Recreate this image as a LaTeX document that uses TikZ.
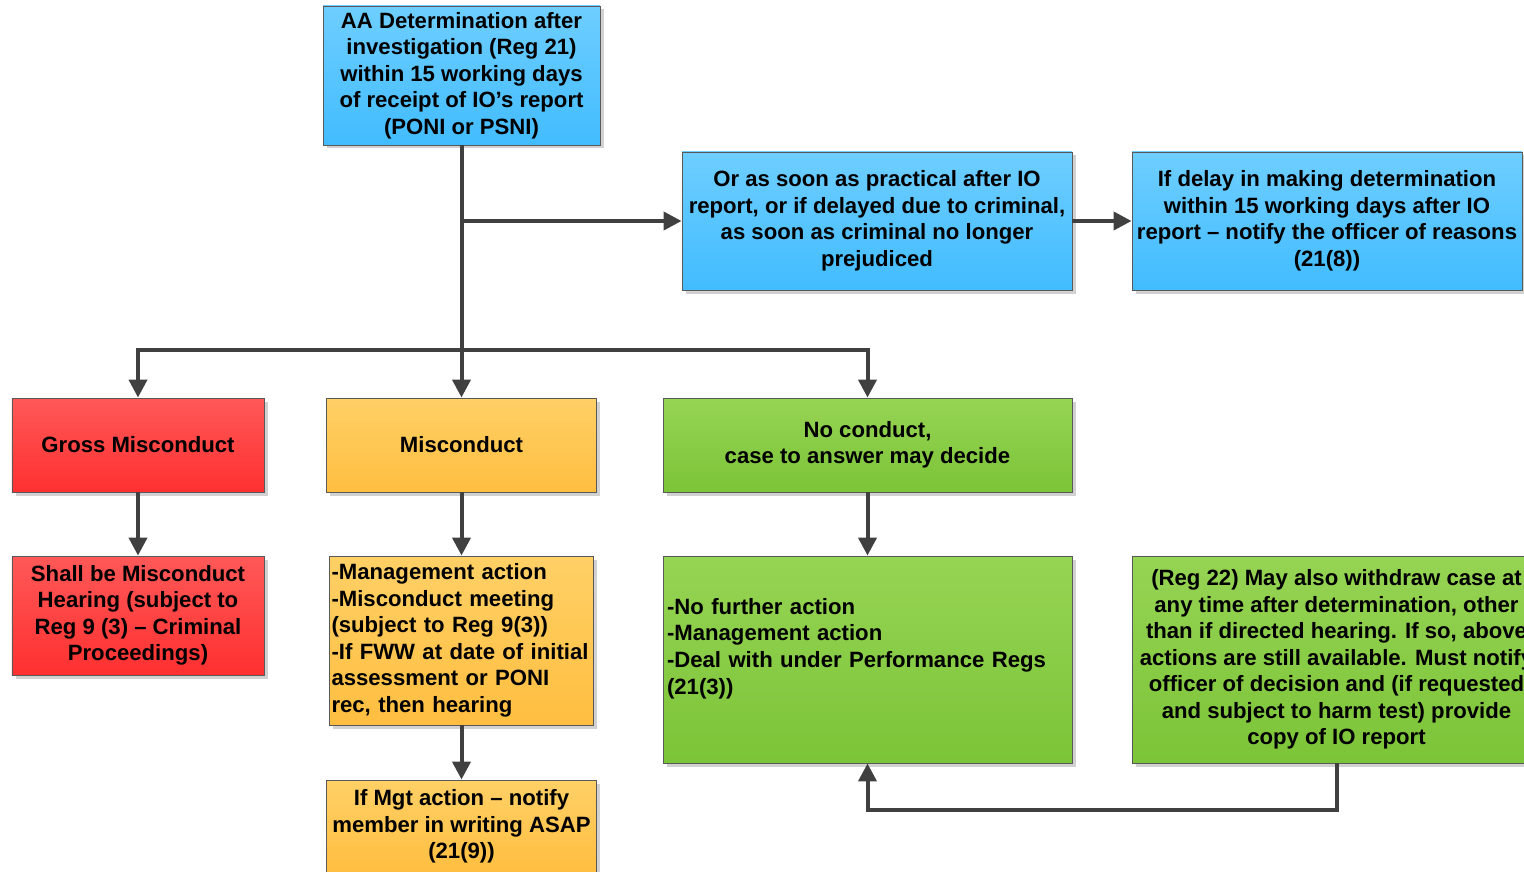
\documentclass[tikz,border=0pt]{standalone}
\usepackage{fontspec}
\setmainfont{Liberation Sans}
\usetikzlibrary{arrows.meta,shadows}

\tikzstyle{box} = [draw=black!65, line width=0.5pt, inner sep=2pt,
  font=\fontsize{12.6}{15.1}\selectfont\bfseries, align=center,
  drop shadow={shadow xshift=0.07cm, shadow yshift=-0.07cm, fill=black!18, opacity=1}]
\tikzstyle{blue}   = [box, top color={rgb,255:red,110;green,206;blue,255}, bottom color={rgb,255:red,66;green,188;blue,255}]
\tikzstyle{red}    = [box, top color={rgb,255:red,255;green,88;blue,88}, bottom color={rgb,255:red,255;green,48;blue,48}]
\tikzstyle{orange} = [box, top color={rgb,255:red,255;green,208;blue,102}, bottom color={rgb,255:red,255;green,190;blue,64}]
\tikzstyle{green}  = [box, top color={rgb,255:red,150;green,212;blue,84}, bottom color={rgb,255:red,124;green,196;blue,56}]
\tikzstyle{line}  = [draw, line width=0.08cm, color=black!75]
\tikzstyle{arrow} = [line, -{Stealth[inset=0pt, length=0.36cm, width=0.36cm]}]

\begin{document}
\begin{tikzpicture}
\useasboundingbox (0,0) rectangle (30.48,-17.44);
\clip (0,0) rectangle (30.48,-17.44);

% top row
\node[blue, minimum width=5.54cm, minimum height=2.78cm] (aa) at (9.23,-1.51)
  {AA Determination after\\investigation (Reg 21)\\within 15 working days\\of receipt of IO’s report\\(PONI or PSNI)};
\node[blue, minimum width=7.80cm, minimum height=2.76cm] (soon) at (17.54,-4.42)
  {Or as soon as practical after IO\\report, or if delayed due to criminal,\\as soon as criminal no longer\\prejudiced};
\node[blue, minimum width=7.80cm, minimum height=2.76cm] (delay) at (26.54,-4.42)
  {If delay in making determination\\within 15 working days after IO\\report – notify the officer of reasons\\(21(8))};

% outcomes
\node[red, minimum width=5.04cm, minimum height=1.88cm] (gross) at (2.76,-8.90) {Gross Misconduct};
\node[orange, minimum width=5.40cm, minimum height=1.88cm] (misc) at (9.23,-8.90) {Misconduct};
\node[green, minimum width=8.18cm, minimum height=1.88cm] (nocon) at (17.35,-8.90) {No conduct,\\case to answer may decide};

% actions
\node[red, minimum width=5.04cm, minimum height=2.38cm] (shall) at (2.76,-12.31)
  {Shall be Misconduct\\Hearing (subject to\\Reg 9 (3) – Criminal\\Proceedings)};
\node[orange, minimum width=5.28cm, minimum height=3.38cm, inner xsep=0.04cm, text width=5.2cm, align=left] (mgmt) at (9.23,-12.81)
  {-Management action\\-Misconduct meeting\\(subject to Reg 9(3))\\-If FWW at date of initial\\assessment or PONI\\rec, then hearing};
\node[green, minimum width=8.18cm, minimum height=4.14cm, text width=8.02cm, align=left] (nfa) at (17.35,-13.19)
  {-No further action\\-Management action\\-Deal with under Performance Regs\\(21(3))\\\mbox{}};
\node[green, minimum width=8.18cm, minimum height=4.14cm] (reg22) at (26.73,-13.19)
  {(Reg 22) May also withdraw case at\\any time after determination, other\\than if directed hearing. If so, above\\actions are still available. Must notify\\officer of decision and (if requested\\and subject to harm test) provide\\copy of IO report};
\node[orange, minimum width=5.40cm, minimum height=1.86cm] (ifmgt) at (9.23,-16.53)
  {If Mgt action – notify\\member in writing ASAP\\(21(9))};

% connectors
\coordinate (bus) at (9.23,-7.00);
\draw[line] (aa.south) -- (bus);
\draw[arrow] (aa.south |- soon.west) -- (soon.west);
\draw[arrow] (soon.east) -- (delay.west);
\draw[arrow] (bus) -| (gross.north);
\draw[arrow] (bus) -- (misc.north);
\draw[arrow] (bus) -| (nocon.north);
\draw[arrow] (gross) -- (shall);
\draw[arrow] (misc) -- (mgmt);
\draw[arrow] (mgmt) -- (ifmgt);
\draw[arrow] (nocon) -- (nfa);
\draw[arrow] (reg22.south) -- ++(0,-0.94) -| (nfa.south);
\end{tikzpicture}
\end{document}
